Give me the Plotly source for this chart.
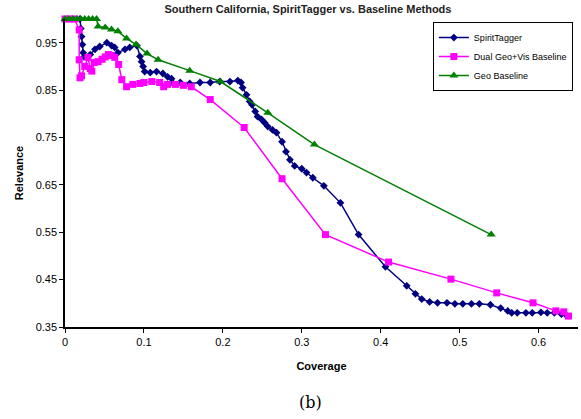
import plotly.graph_objects as go

# SpiritTagger
st_x = [0.019, 0.020, 0.021, 0.022, 0.023, 0.024, 0.032, 0.038, 0.044, 0.053, 0.059, 0.063, 0.067,
        0.076, 0.082, 0.091, 0.095, 0.097, 0.099, 0.101, 0.108, 0.116, 0.124, 0.130, 0.135, 0.137,
        0.146, 0.158, 0.171, 0.184, 0.196, 0.209, 0.219, 0.223, 0.225, 0.230, 0.234, 0.237, 0.241,
        0.244, 0.249, 0.253, 0.257, 0.263, 0.268, 0.275, 0.280, 0.285, 0.291, 0.300, 0.306, 0.314,
        0.328, 0.349, 0.372, 0.406, 0.433, 0.444, 0.452, 0.462, 0.472, 0.484, 0.494, 0.504, 0.515,
        0.525, 0.539, 0.552, 0.561, 0.566, 0.573, 0.584, 0.592, 0.603, 0.611, 0.620, 0.629, 0.635]
st_y = [1.000, 0.980, 0.963, 0.946, 0.929, 0.920, 0.925, 0.936, 0.942, 0.950, 0.944, 0.940, 0.929,
        0.936, 0.940, 0.944, 0.921, 0.910, 0.900, 0.889, 0.887, 0.889, 0.885, 0.878, 0.874, 0.864,
        0.866, 0.864, 0.866, 0.866, 0.868, 0.868, 0.870, 0.866, 0.855, 0.840, 0.826, 0.819, 0.805,
        0.794, 0.788, 0.781, 0.773, 0.766, 0.760, 0.741, 0.720, 0.703, 0.690, 0.684, 0.676, 0.665,
        0.648, 0.612, 0.545, 0.477, 0.437, 0.420, 0.409, 0.403, 0.401, 0.401, 0.399, 0.399, 0.399,
        0.399, 0.397, 0.390, 0.384, 0.380, 0.380, 0.380, 0.380, 0.381, 0.380, 0.380, 0.377, 0.375]

# Dual Geo+Vis Baseline
dg_x = [0.000, 0.006, 0.012, 0.018, 0.018, 0.019, 0.021, 0.025, 0.029, 0.032, 0.034, 0.037, 0.042,
        0.047, 0.051, 0.055, 0.059, 0.063, 0.068, 0.072, 0.078, 0.086, 0.095, 0.100, 0.110, 0.120,
        0.125, 0.130, 0.140, 0.150, 0.160, 0.184, 0.227, 0.275, 0.330, 0.410, 0.489, 0.547, 0.593,
        0.622, 0.632, 0.638]
dg_y = [1.000, 1.000, 1.000, 0.977, 0.914, 0.876, 0.880, 0.900, 0.919, 0.895, 0.890, 0.908, 0.910,
        0.915, 0.920, 0.925, 0.923, 0.919, 0.904, 0.872, 0.857, 0.862, 0.864, 0.866, 0.868, 0.866,
        0.857, 0.862, 0.862, 0.860, 0.857, 0.830, 0.771, 0.663, 0.545, 0.487, 0.451, 0.422, 0.401,
        0.384, 0.382, 0.373]

# Geo Baseline
gb_x = [0.000, 0.005, 0.010, 0.015, 0.020, 0.025, 0.030, 0.035, 0.040, 0.042, 0.051, 0.059, 0.067,
        0.078, 0.090, 0.104, 0.118, 0.158, 0.197, 0.257, 0.316, 0.540]
gb_y = [1.000, 1.000, 1.000, 1.000, 1.000, 1.000, 1.000, 1.000, 1.000, 0.984, 0.982, 0.978, 0.974,
        0.959, 0.946, 0.927, 0.914, 0.891, 0.868, 0.802, 0.735, 0.545]

x_ticks = [0, 0.1, 0.2, 0.3, 0.4, 0.5, 0.6]
x_labels = ["0", "0.1", "0.2", "0.3", "0.4", "0.5", "0.6"]
y_ticks = [0.35, 0.45, 0.55, 0.65, 0.75, 0.85, 0.95]
y_labels = ["0.35", "0.45", "0.55", "0.65", "0.75", "0.85", "0.95"]

FONT = "Liberation Sans, Arial, sans-serif"

fig = go.Figure()
fig.add_trace(go.Scatter(x=st_x, y=st_y, name="SpiritTagger", mode="lines+markers",
                         line=dict(color="#000080", width=1.5),
                         marker=dict(symbol="diamond", size=6, color="#000080"),
                         cliponaxis=False))
fig.add_trace(go.Scatter(x=dg_x, y=dg_y, name="Dual Geo+Vis Baseline", mode="lines+markers",
                         line=dict(color="#FF00FF", width=1.5),
                         marker=dict(symbol="square", size=7, color="#FF00FF"),
                         cliponaxis=False))
fig.add_trace(go.Scatter(x=gb_x, y=gb_y, name="Geo Baseline", mode="lines+markers",
                         line=dict(color="#008000", width=1.5),
                         marker=dict(symbol="triangle-up", size=8, color="#008000"),
                         cliponaxis=False))

fig.update_layout(
    width=581, height=419,
    margin=dict(l=65, r=3, t=19, b=92, autoexpand=False),
    paper_bgcolor="white", plot_bgcolor="white",
    font=dict(family=FONT, color="black", size=11),
    title=dict(text="<b>Southern California, SpiritTagger vs. Baseline Methods</b>",
               x=0.53, xanchor="center", y=0.978, yanchor="middle",
               font=dict(size=11, family=FONT, color="#222222")),
    showlegend=True,
    legend=dict(x=0.99, y=0.99, xanchor="right", yanchor="top",
                bgcolor="white", bordercolor="black", borderwidth=1,
                font=dict(size=9, family=FONT), tracegroupgap=0,
                itemwidth=30),
    xaxis=dict(range=[0, 0.65], tickvals=x_ticks, ticktext=x_labels, automargin=False,
               showgrid=False, zeroline=False, showline=True, linecolor="black", linewidth=1.5,
               ticks="outside", ticklen=4, tickcolor="black", tickfont=dict(size=11),
               title=dict(text="<b>Coverage</b>", font=dict(size=11), standoff=15)),
    yaxis=dict(range=[0.35, 1.0], tickvals=y_ticks, ticktext=y_labels, automargin=False,
               showgrid=False, zeroline=False, showline=True, linecolor="black", linewidth=1.5,
               ticks="outside", ticklen=4, tickcolor="black", tickfont=dict(size=11),
               title=dict(text="<b>Relevance</b>", font=dict(size=11), standoff=10)),
    annotations=[dict(text="(b)", xref="paper", yref="paper", x=0.478, y=-0.245,
                      xanchor="center", yanchor="middle", showarrow=False,
                      font=dict(family="DejaVu Serif, serif", size=16))],
)

fig.write_html("out.html", config={"displayModeBar": False},
               post_script="document.body.style.margin='0';")
